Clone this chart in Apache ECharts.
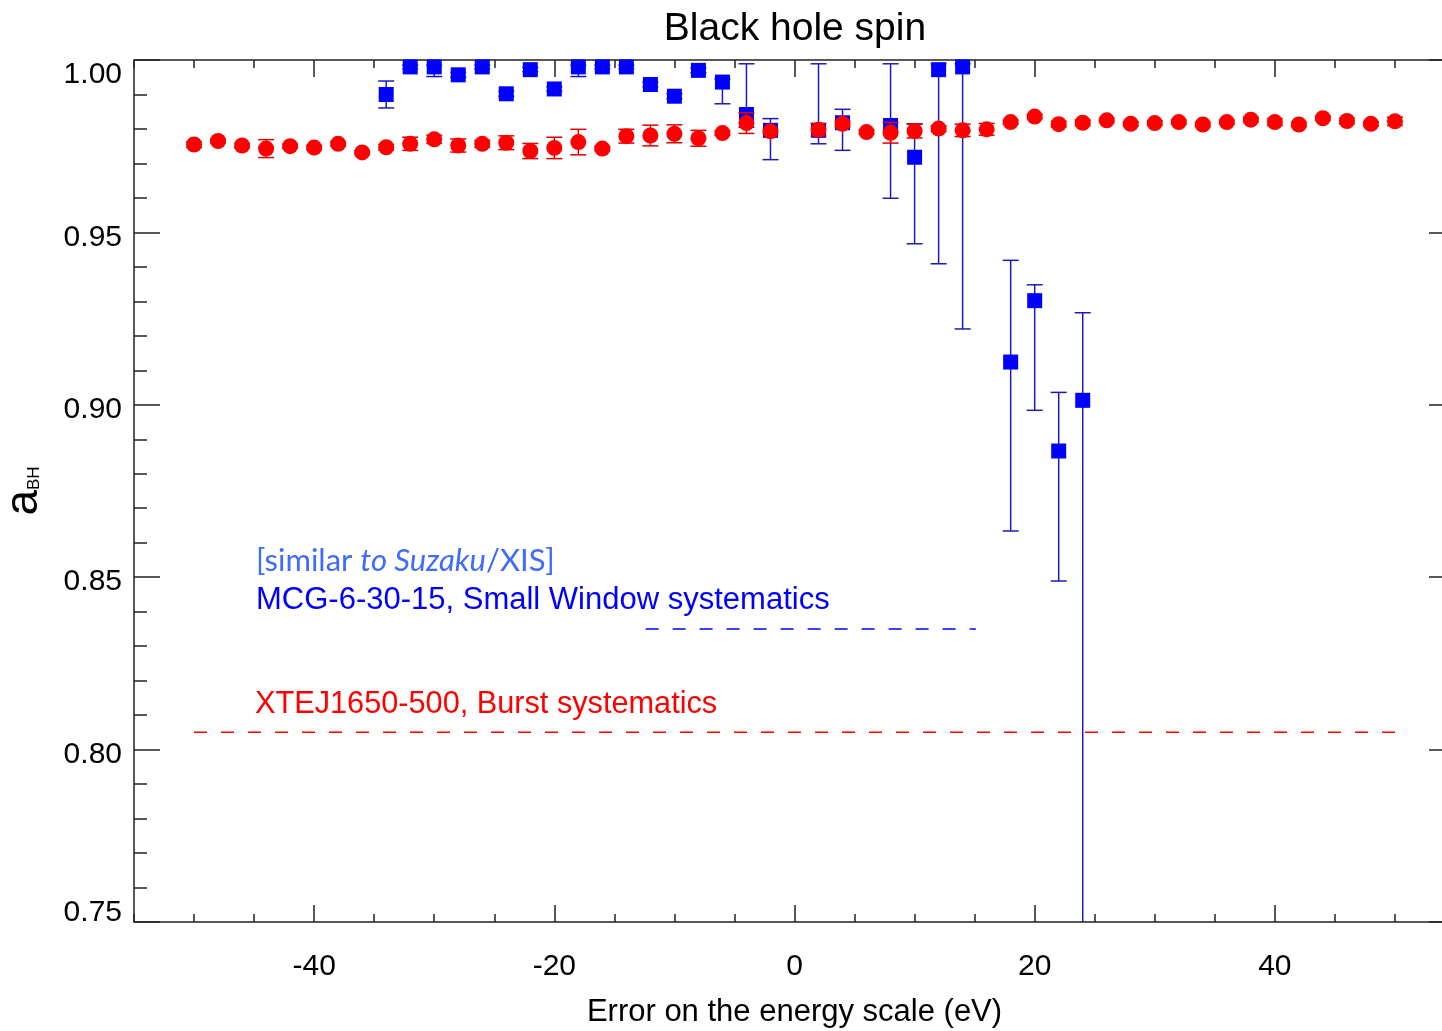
<!DOCTYPE html>
<html>
<head>
<meta charset="utf-8">
<title>Black hole spin</title>
<script src="https://cdn.jsdelivr.net/npm/echarts@6/dist/echarts.min.js"></script>
<style>
html, body { margin: 0; padding: 0; background: #fff; }
#main { width: 1442px; height: 1031px; }
</style>
</head>
<body>
<div id="main"></div>
<script>
// XTEJ1650-500, burst systematics (red circles)
var redX = [-50, -48, -46, -44, -42, -40, -38, -36, -34, -32, -30, -28, -26, -24, -22, -20, -18, -16, -14, -12, -10, -8, -6, -4, -2,
            2, 4, 6, 8, 10, 12, 14, 16, 18, 20, 22, 24, 26, 28, 30, 32, 34, 36, 38, 40, 42, 44, 46, 48, 50];
var redY = [0.9755, 0.9765, 0.9752, 0.9743, 0.9750, 0.9746, 0.9757, 0.9732, 0.9747, 0.9757, 0.9770, 0.9752, 0.9757, 0.9760, 0.9736,
            0.9745, 0.9762, 0.9743, 0.9779, 0.9781, 0.9786, 0.9773, 0.9788, 0.9817, 0.9793,
            0.9798, 0.9815, 0.9791, 0.9789, 0.9794, 0.9801, 0.9796, 0.9799, 0.9820, 0.9836, 0.9814, 0.9818, 0.9825, 0.9815,
            0.9817, 0.9820, 0.9813, 0.9820, 0.9827, 0.9820, 0.9813, 0.9831, 0.9823, 0.9815, 0.9822];
var redErr = [0.0008, 0.0006, 0.0006, 0.0026, 0.0006, 0.0006, 0.0006, 0.0005, 0.0008, 0.0019, 0.0012, 0.0019, 0.0010, 0.0020, 0.0022,
              0.0031, 0.0037, 0.0006, 0.0020, 0.0030, 0.0026, 0.0023, 0.0006, 0.0030, 0.0006,
              0.0018, 0.0008, 0.0006, 0.0030, 0.0020, 0.0008, 0.0018, 0.0017, 0.0006, 0.0006, 0.0008, 0.0008, 0.0006, 0.0006,
              0.0006, 0.0006, 0.0006, 0.0006, 0.0006, 0.0010, 0.0006, 0.0006, 0.0008, 0.0006, 0.0012];

// MCG-6-30-15, small window systematics (blue squares)
var blueX = [-34, -32, -30, -28, -26, -24, -22, -20, -18, -16, -14, -12, -10, -8, -6, -4, -2, 2, 4, 8, 10, 12, 14, 18, 20, 22, 24];
var blueY = [0.9900, 0.998, 0.998, 0.9957, 0.998, 0.9902, 0.9972, 0.9916, 0.998, 0.998, 0.998, 0.9929, 0.9895, 0.9970, 0.9936,
             0.9842, 0.9796, 0.9796, 0.9818, 0.9810, 0.9718, 0.9972, 0.998, 0.9124, 0.9302, 0.8866, 0.9013];
var blueLo = [0.9861, 0.9975, 0.9952, 0.9950, 0.9975, 0.9895, 0.9966, 0.9910, 0.9952, 0.9975, 0.9975, 0.9922, 0.9888, 0.9963, 0.9873,
              0.9805, 0.9711, 0.9757, 0.9738, 0.9599, 0.9467, 0.9409, 0.9220, 0.8634, 0.8984, 0.8489, 0.70];
var blueHi = [0.9939, 0.9985, 0.9985, 0.9964, 0.9985, 0.9909, 0.9978, 0.9922, 0.9985, 0.9985, 0.9985, 0.9936, 0.9902, 0.9977, 0.9945,
              0.9989, 0.9830, 0.9989, 0.9857, 0.9989, 0.9815, 0.9989, 0.9989, 0.9419, 0.9348, 0.9036, 0.9267];

// legend sample lines
var redKeyLine = [[-50, 0.805], [50, 0.805]];
var blueKeyLine = [[-12.4, 0.835], [15.1, 0.835]];

var majorX = [-40, -20, 0, 20, 40];

var FONT = '"Liberation Sans", Arial, Helvetica, sans-serif';
var AXC = '#222';

function pts(xs, ys) {
    var out = [];
    for (var i = 0; i < xs.length; i++) out.push([xs[i], ys[i]]);
    return out;
}
var redPts = pts(redX, redY);
var bluePts = pts(blueX, blueY);
var redBars = [], blueBars = [];
for (var i = 0; i < redX.length; i++) redBars.push([redX[i], redY[i] - redErr[i], redY[i] + redErr[i]]);
for (var j = 0; j < blueX.length; j++) blueBars.push([blueX[j], blueLo[j], blueHi[j]]);

function errBar(color, cap) {
    return function (params, api) {
        var x = api.value(0);
        var lo = api.coord([x, api.value(1)]);
        var hi = api.coord([x, api.value(2)]);
        var st = { stroke: color, lineWidth: 1.5 };
        return {
            type: 'group',
            children: [
                { type: 'line', shape: { x1: lo[0], y1: lo[1], x2: hi[0], y2: hi[1] }, style: st },
                { type: 'line', shape: { x1: lo[0] - cap, y1: lo[1], x2: lo[0] + cap, y2: lo[1] }, style: st },
                { type: 'line', shape: { x1: hi[0] - cap, y1: hi[1], x2: hi[0] + cap, y2: hi[1] }, style: st }
            ]
        };
    };
}

function xAx(pos, major) {
    return {
        type: 'value', min: -55, max: 55, position: pos,
        interval: major ? undefined : 5,
        axisLine: { show: major, onZero: false, lineStyle: { color: AXC, width: 1.5 } },
        axisTick: major
            ? { inside: true, length: 17, customValues: majorX, lineStyle: { color: AXC, width: 1.5 } }
            : { inside: true, length: 8, lineStyle: { color: AXC, width: 1.5 } },
        axisLabel: (major && pos === 'bottom')
            ? { customValues: majorX, margin: 30, fontSize: 30, color: '#000', fontFamily: FONT }
            : { show: false },
        splitLine: { show: false }
    };
}

var xBottom = xAx('bottom', true);
xBottom.name = 'Error on the energy scale (eV)';
xBottom.nameLocation = 'middle';
xBottom.nameGap = 75;
xBottom.nameTextStyle = { fontSize: 31, color: '#000', fontFamily: FONT };

function yAx(pos) {
    var ax = {
        type: 'value', min: 0.75, max: 1.0, interval: 0.05, position: pos,
        axisLine: { show: true, onZero: false, lineStyle: { color: AXC, width: 1.5 } },
        axisTick: { inside: true, length: 26, lineStyle: { color: AXC, width: 1.5 } },
        minorTick: { show: true, splitNumber: 5, length: 13, lineStyle: { color: AXC, width: 1.5 } },
        splitLine: { show: false },
        minorSplitLine: { show: false },
        axisLabel: { show: false }
    };
    if (pos === 'left') {
        ax.axisLabel = {
            margin: 12,
            formatter: function (v) {
                if (Math.abs(v - 1) < 1e-6) return '{top|1.00}';
                if (Math.abs(v - 0.75) < 1e-6) return '{bot|0.75}';
                return '{n|' + v.toFixed(2) + '}';
            },
            rich: {
                n: { fontSize: 30, color: '#000', fontFamily: FONT, padding: [10, 0, 0, 0] },
                top: { fontSize: 30, color: '#000', fontFamily: FONT, padding: [30, 0, 0, 0] },
                bot: { fontSize: 30, color: '#000', fontFamily: FONT, padding: [0, 0, 18, 0] }
            }
        };
        ax.name = '{a|a}{s|BH}';
        ax.nameLocation = 'middle';
        ax.nameRotate = 90;
        ax.nameGap = 87;
        ax.nameTextStyle = {
            rich: {
                a: { fontSize: 46, color: '#000', fontFamily: FONT, verticalAlign: 'bottom' },
                s: { fontSize: 17, color: '#000', fontFamily: FONT, verticalAlign: 'bottom', padding: [0, 0, 4, 0] }
            }
        };
    }
    return ax;
}

var option = {
    backgroundColor: '#fff',
    animation: false,
    title: {
        text: 'Black hole spin',
        left: 790, top: 5, textAlign: 'center',
        textStyle: { fontSize: 39, fontWeight: 'normal', color: '#000', fontFamily: FONT }
    },
    grid: { left: 134, top: 60, width: 1321, height: 862, containLabel: false, outerBoundsMode: 'none' },
    xAxis: [xBottom, xAx('bottom', false), xAx('top', true), xAx('top', false)],
    yAxis: [yAx('left'), yAx('right')],
    graphic: [
        {
            type: 'text', left: 256, top: 545,
            style: {
                text: '{n|[similar }{i|to Suzaku}{n|/XIS]}',
                rich: {
                    n: { fontSize: 31, fill: '#3f6bff', fontFamily: 'Lato, "Open Sans", sans-serif' },
                    i: { fontSize: 31, fill: '#3f6bff', fontStyle: 'italic', fontFamily: 'Lato, "Open Sans", sans-serif' }
                }
            }
        },
        {
            type: 'text', left: 256, top: 585,
            style: { text: 'MCG-6-30-15, Small Window systematics', fontSize: 31, fill: '#0000ff', fontFamily: FONT }
        },
        {
            type: 'text', left: 255, top: 689,
            style: { text: 'XTEJ1650-500, Burst systematics', fontSize: 30.7, fill: '#ff0000', fontFamily: FONT }
        }
    ],
    series: [
        {
            type: 'custom', name: 'blue err', data: blueBars, clip: true,
            encode: { x: 0, y: [1, 2] },
            renderItem: errBar('#1c1cb4', 8), z: 2
        },
        {
            type: 'scatter', name: 'MCG-6-30-15', data: bluePts,
            symbol: 'rect', symbolSize: 15, itemStyle: { color: '#0000ff', opacity: 1 }, z: 3
        },
        {
            type: 'custom', name: 'red err', data: redBars, clip: true,
            encode: { x: 0, y: [1, 2] },
            renderItem: errBar('#e00000', 8), z: 4
        },
        {
            type: 'scatter', name: 'XTEJ1650-500', data: redPts,
            symbol: 'circle', symbolSize: 16, itemStyle: { color: '#ff0000', opacity: 1 }, z: 5
        },
        {
            type: 'line', data: redKeyLine, symbol: 'none', silent: true,
            lineStyle: { color: '#ff0000', width: 1.5, type: [13, 14] }, z: 1
        },
        {
            type: 'line', data: blueKeyLine, symbol: 'none', silent: true,
            lineStyle: { color: '#0000ff', width: 1.5, type: [13, 14] }, z: 1
        }
    ]
};

var chart = echarts.init(document.getElementById('main'));
chart.setOption(option);
</script>
</body>
</html>
